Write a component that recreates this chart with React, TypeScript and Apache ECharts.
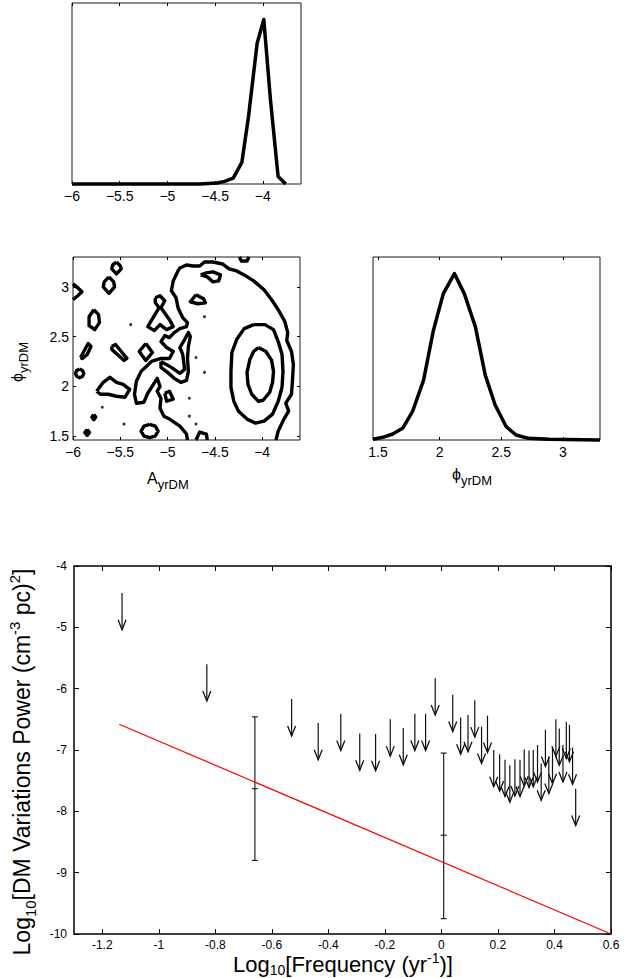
import React, { useEffect, useRef } from "react";
import * as echarts from "echarts";

const FONT = '"Liberation Sans", Arial, Helvetica, sans-serif';

// ---- tick values ----
const A_TICKS = [-6, -5.5, -5, -4.5, -4];
const PHI_TICKS = [1.5, 2, 2.5, 3];
const FREQ_TICKS = [-1.2, -1, -0.8, -0.6, -0.4, -0.2, 0, 0.2, 0.4, 0.6];
const POWER_TICKS = [-10, -9, -8, -7, -6, -5, -4];

// ---- marginal posterior of A_yrDM ----
const A_VALUES = [-6.0, -4.66, -4.48, -4.4, -4.31, -4.22, -4.15, -4.06, -3.99, -3.92, -3.84, -3.76];
const A_PDF = [0, 0, 0.006, 0.016, 0.036, 0.131, 0.41, 0.854, 1.0, 0.511, 0.046, 0];

// ---- marginal posterior of phi_yrDM ----
const PHI_VALUES = [1.46, 1.54, 1.62, 1.7, 1.78, 1.87, 1.95, 2.03, 2.12, 2.2, 2.29, 2.37, 2.45, 2.54, 2.62, 2.72, 2.89, 3.3];
const PHI_PDF = [0.004, 0.016, 0.036, 0.07, 0.17, 0.36, 0.66, 0.88, 1.0, 0.88, 0.68, 0.39, 0.21, 0.08, 0.03, 0.01, 0.004, 0];

// ---- 2D contours (A_yrDM, phi_yrDM) ----
const CONTOUR_INNER = [[-4.04, 2.39], [-3.96, 2.35], [-3.9, 2.26], [-3.88, 2.15], [-3.89, 2.04], [-3.92, 1.94], [-3.99, 1.86], [-4.04, 1.85], [-4.11, 1.92], [-4.15, 2.02], [-4.16, 2.14], [-4.13, 2.27], [-4.09, 2.35]];
const CONTOUR_MID = [[-4.09, 2.62], [-3.97, 2.62], [-3.88, 2.57], [-3.83, 2.45], [-3.79, 2.32], [-3.78, 2.15], [-3.79, 1.99], [-3.83, 1.85], [-3.89, 1.72], [-3.98, 1.65], [-4.07, 1.63], [-4.16, 1.67], [-4.25, 1.75], [-4.3, 1.85], [-4.33, 1.99], [-4.33, 2.15], [-4.32, 2.34], [-4.27, 2.47], [-4.19, 2.58]];
const CONTOUR_OUTER = [[-3.855, 1.46], [-3.83, 1.55], [-3.77, 1.67], [-3.72, 1.75], [-3.75, 1.83], [-3.69, 1.92], [-3.68, 2.05], [-3.67, 2.22], [-3.69, 2.35], [-3.74, 2.46], [-3.73, 2.54], [-3.76, 2.65], [-3.83, 2.77], [-3.9, 2.87], [-3.98, 2.97], [-4.09, 3.06], [-4.19, 3.12], [-4.27, 3.16], [-4.35, 3.18], [-4.42, 3.23], [-4.52, 3.25], [-4.61, 3.25], [-4.66, 3.21], [-4.73, 3.21], [-4.8, 3.22], [-4.87, 3.19], [-4.89, 3.16], [-4.94, 3.06], [-4.96, 2.96], [-4.91, 2.89], [-4.89, 2.79], [-4.84, 2.69], [-4.79, 2.64], [-4.8, 2.6], [-4.87, 2.58], [-4.93, 2.54], [-4.98, 2.49], [-5.03, 2.51], [-5.07, 2.45], [-5.01, 2.39], [-4.94, 2.35], [-4.98, 2.28], [-5.07, 2.28], [-5.17, 2.25], [-5.28, 2.15], [-5.33, 2.05], [-5.35, 1.92], [-5.33, 1.83], [-5.25, 1.84], [-5.21, 1.93], [-5.15, 2.02], [-5.11, 2.08], [-5.08, 2.0], [-5.11, 1.95], [-5.07, 1.88], [-5.08, 1.78], [-5.04, 1.7], [-4.98, 1.67], [-4.87, 1.6], [-4.8, 1.52], [-4.79, 1.46]];
const CONTOUR_BAND = [[-5.07, 2.25], [-4.96, 2.19], [-4.87, 2.13], [-4.82, 2.17], [-4.84, 2.32], [-4.87, 2.39], [-4.82, 2.47], [-4.78, 2.54], [-4.76, 2.5], [-4.78, 2.4], [-4.79, 2.28], [-4.78, 2.15], [-4.8, 2.06], [-4.86, 2.04], [-4.93, 2.08], [-5.0, 2.14], [-5.07, 2.19]];
const CONTOUR_HEART = [[-5.13, 2.89], [-5.08, 2.91], [-5.03, 2.86], [-5.07, 2.79], [-4.98, 2.67], [-4.94, 2.6], [-5.01, 2.57], [-5.08, 2.62], [-5.14, 2.56], [-5.21, 2.6], [-5.14, 2.71], [-5.09, 2.79], [-5.13, 2.84]];
const CONTOUR_TOP_BLOB = [[-4.65, 3.12], [-4.58, 3.1], [-4.52, 3.05], [-4.46, 3.06], [-4.44, 3.12], [-4.52, 3.15], [-4.59, 3.14]];
const CONTOUR_TRI_UP = [[-4.7, 2.92], [-4.62, 2.88], [-4.6, 2.84], [-4.68, 2.83], [-4.76, 2.85]];
const CONTOUR_TRI_MID = [[-5.03, 1.93], [-4.98, 1.95], [-4.94, 1.87], [-5.01, 1.85]];
const CONTOUR_B1 = [[-5.54, 3.25], [-5.5, 3.21], [-5.49, 3.18], [-5.54, 3.13], [-5.59, 3.18], [-5.58, 3.22]];
const CONTOUR_B2 = [[-5.62, 3.1], [-5.57, 3.05], [-5.56, 3.0], [-5.62, 2.935], [-5.68, 3.0], [-5.67, 3.05]];
const CONTOUR_B4 = [[-5.78, 2.77], [-5.73, 2.72], [-5.72, 2.64], [-5.77, 2.57], [-5.83, 2.61], [-5.83, 2.7]];
const CONTOUR_B6 = [[-5.92, 2.29], [-5.88, 2.36], [-5.84, 2.43], [-5.81, 2.4], [-5.85, 2.32], [-5.9, 2.28]];
const CONTOUR_B7 = [[-5.59, 2.4], [-5.55, 2.42], [-5.49, 2.35], [-5.43, 2.28], [-5.46, 2.26], [-5.53, 2.32], [-5.59, 2.37]];
const CONTOUR_B8 = [[-5.23, 2.43], [-5.16, 2.34], [-5.23, 2.26], [-5.3, 2.35]];
const CONTOUR_B9 = [[-5.93, 2.175], [-5.9, 2.16], [-5.885, 2.13], [-5.9, 2.1], [-5.93, 2.085], [-5.96, 2.1], [-5.975, 2.13], [-5.96, 2.16]];
const CONTOUR_B10 = [[-5.75, 1.95], [-5.68, 2.04], [-5.61, 2.09], [-5.54, 2.04], [-5.47, 2.02], [-5.4, 1.97], [-5.45, 1.89], [-5.54, 1.9], [-5.63, 1.92], [-5.71, 1.92]];
const CONTOUR_B11 = [[-5.78, 1.715], [-5.76, 1.69], [-5.78, 1.665], [-5.8, 1.69]];
const CONTOUR_B12 = [[-5.85, 1.565], [-5.825, 1.535], [-5.85, 1.505], [-5.875, 1.535]];
const CONTOUR_B15 = [[-5.19, 1.617], [-5.13, 1.6], [-5.1, 1.55], [-5.13, 1.5], [-5.19, 1.483], [-5.25, 1.5], [-5.28, 1.55], [-5.25, 1.6]];
const CONTOUR_EDGE_WEDGE = [[-6, 3.03], [-5.95, 2.99], [-5.905, 2.95], [-5.95, 2.91], [-6, 2.87]];
const CONTOUR_TOP_EDGE = [[-4.24, 3.3], [-4.22, 3.26], [-4.16, 3.26], [-4.14, 3.3]];
const CONTOUR_BOTTOM_EDGE = [[-4.7, 1.46], [-4.66, 1.54], [-4.59, 1.52], [-4.58, 1.46]];
const DOT_A = [-5.39, -5.46, -4.61, -4.7, -4.77, -4.77, -4.7, -4.61, -5.69];
const DOT_PHI = [2.62, 1.62, 2.7, 2.29, 1.88, 1.7, 1.62, 2.14, 1.79];

const CLOSED_CONTOURS = [CONTOUR_INNER, CONTOUR_MID, CONTOUR_BAND, CONTOUR_HEART, CONTOUR_TOP_BLOB, CONTOUR_TRI_UP, CONTOUR_TRI_MID, CONTOUR_B1, CONTOUR_B2, CONTOUR_B4, CONTOUR_B6, CONTOUR_B7, CONTOUR_B8, CONTOUR_B9, CONTOUR_B10, CONTOUR_B11, CONTOUR_B12, CONTOUR_B15];
const OPEN_CONTOURS = [CONTOUR_OUTER, CONTOUR_EDGE_WEDGE, CONTOUR_TOP_EDGE, CONTOUR_BOTTOM_EDGE];

// ---- DM power spectrum ----
const FREQ_UL = [-1.13, -0.83, -0.53, -0.436, -0.356, -0.289, -0.233, -0.181, -0.135, -0.094, -0.056, -0.022, 0.04, 0.068, 0.094, 0.118, 0.142, 0.163, 0.185, 0.206, 0.225, 0.242, 0.26, 0.278, 0.293, 0.31, 0.325, 0.34, 0.353, 0.368, 0.38, 0.393, 0.405, 0.417, 0.43, 0.442, 0.453, 0.464, 0.475];
const POWER_UL = [-4.44, -5.6, -6.17, -6.56, -6.41, -6.73, -6.74, -6.5, -6.64, -6.41, -6.41, -5.83, -6.1, -6.47, -6.43, -6.19, -6.62, -6.44, -7.0, -7.07, -7.16, -7.25, -7.15, -7.16, -6.99, -7.01, -7.0, -6.92, -7.22, -6.67, -7.11, -6.95, -6.5, -6.65, -6.92, -6.54, -6.59, -6.96, -7.63];
const ARROW_LEN = 0.6;
const FREQ_DET = [-0.66, 0.008];
const POWER_DET = [-7.63, -8.39];
const POWER_DET_LO = [-8.8, -9.75];
const POWER_DET_HI = [-6.46, -7.05];
const MODEL_FREQ = [-1.14, 0.6];
const MODEL_POWER = [-6.58, -10];

const minusFmt = (v: number) => (v < 0 ? "\u2212" + String(-v) : String(v));

function makeXAxis(gridIndex: number, min: number, max: number, ticks: number[], opts: any) {
  const tickLen = opts.tickLen ?? 3;
  const base = {
    type: "value",
    gridIndex,
    min,
    max,
    axisLine: { show: false, onZero: false },
    splitLine: { show: false },
    axisTick: { show: opts.ticks !== false, inside: true, length: tickLen, customValues: ticks, lineStyle: { color: "#000", width: 1 } },
  };
  return [
    {
      ...base,
      position: "bottom",
      axisLabel: {
        show: opts.labels !== false,
        customValues: ticks,
        formatter: opts.fmt,
        margin: opts.margin ?? 5,
        fontSize: opts.fontSize ?? 14,
        fontFamily: FONT,
        color: "#000",
      },
    },
    { ...base, position: "top", axisLabel: { show: false } },
  ];
}

function makeYAxis(gridIndex: number, min: number, max: number, ticks: number[], opts: any) {
  const tickLen = opts.tickLen ?? 3;
  const base = {
    type: "value",
    gridIndex,
    min,
    max,
    show: opts.show !== false,
    axisLine: { show: false, onZero: false },
    splitLine: { show: false },
    axisTick: { show: opts.ticks !== false, inside: true, length: tickLen, customValues: ticks, lineStyle: { color: "#000", width: 1 } },
  };
  return [
    {
      ...base,
      position: "left",
      axisLabel: {
        show: opts.labels !== false,
        customValues: ticks,
        formatter: opts.fmt,
        margin: opts.margin ?? 4,
        fontSize: opts.fontSize ?? 14,
        fontFamily: FONT,
        color: "#000",
      },
    },
    { ...base, position: "right", axisLabel: { show: false } },
  ];
}

function buildOption(): any {
  const gridBase = { show: true, borderColor: "#1a1a1a", borderWidth: 1, backgroundColor: "transparent" };
  const xAxes = [
    ...makeXAxis(0, -6, -3.6, A_TICKS, { fmt: minusFmt }),
    ...makeXAxis(1, -6, -3.6, A_TICKS, { fmt: minusFmt }),
    ...makeXAxis(2, 1.46, 3.3, PHI_TICKS, { fmt: (v: number) => String(v) }),
    ...makeXAxis(3, -1.3, 0.6, FREQ_TICKS, { fmt: (v: number) => String(v), tickLen: 5, fontSize: 12, margin: 5 }),
  ];
  const y0 = makeYAxis(0, 0, 1.1, [], { show: false });
  const y1 = makeYAxis(1, 1.46, 3.3, PHI_TICKS, { fmt: (v: number) => String(v) });
  const y2 = makeYAxis(2, 0, 1.1, [], { show: false });
  const y3 = makeYAxis(3, -10, -4, POWER_TICKS, { fmt: (v: number) => String(v), tickLen: 5, fontSize: 12, margin: 7 });
  const yAxes = [y0[0], y1[0], y1[1], y2[0], y3[0], y3[1]];

  const contourData = [
    ...CLOSED_CONTOURS.map((c) => ({ coords: [...c, c[0]] })),
    ...OPEN_CONTOURS.map((c) => ({ coords: c })),
  ];

  const arrowData = FREQ_UL.map((f, i) => [f, POWER_UL[i]]);
  const detData = FREQ_DET.map((f, i) => [f, POWER_DET[i], POWER_DET_LO[i], POWER_DET_HI[i]]);

  const titleRich = (n: number, s: number, lh: number) => ({
    n: { fontSize: n, fontFamily: FONT, lineHeight: lh, fill: "#000" },
    s: { fontSize: s, fontFamily: FONT, verticalAlign: "bottom", fill: "#000" },
    p: { fontSize: s, fontFamily: FONT, verticalAlign: "top", fill: "#000" },
  });

  return {
    animation: false,
    backgroundColor: "#fff",
    grid: [
      { ...gridBase, left: 72, top: 3, width: 229, height: 181 },
      { ...gridBase, left: 73, top: 257, width: 227, height: 183 },
      { ...gridBase, left: 373, top: 257, width: 227, height: 183 },
      { ...gridBase, left: 74, top: 566, width: 537, height: 368, borderColor: "#000", borderWidth: 1.5 },
    ],
    xAxis: xAxes,
    yAxis: yAxes,
    series: [
      {
        type: "line",
        xAxisIndex: 0,
        yAxisIndex: 0,
        data: A_VALUES.map((a, i) => [a, A_PDF[i]]),
        showSymbol: false,
        symbol: "none",
        clip: false,
        lineStyle: { color: "#000", width: 3.5, join: "round" },
      },
      {
        type: "lines",
        coordinateSystem: "cartesian2d",
        xAxisIndex: 2,
        yAxisIndex: 1,
        polyline: true,
        silent: true,
        data: contourData,
        lineStyle: { color: "#000", width: 3.4, opacity: 1, curveness: 0, join: "round" },
      },
      {
        type: "scatter",
        xAxisIndex: 2,
        yAxisIndex: 1,
        symbol: "circle",
        symbolSize: 3,
        silent: true,
        itemStyle: { color: "#000" },
        data: DOT_A.map((a, i) => [a, DOT_PHI[i]]),
      },
      {
        type: "line",
        xAxisIndex: 4,
        yAxisIndex: 3,
        data: PHI_VALUES.map((p, i) => [p, PHI_PDF[i]]),
        showSymbol: false,
        symbol: "none",
        clip: false,
        lineStyle: { color: "#000", width: 3.5, join: "round" },
      },
      {
        type: "line",
        xAxisIndex: 6,
        yAxisIndex: 4,
        data: MODEL_FREQ.map((f, i) => [f, MODEL_POWER[i]]),
        showSymbol: false,
        symbol: "none",
        lineStyle: { color: "#ff0000", width: 1.2 },
      },
      {
        type: "custom",
        xAxisIndex: 6,
        yAxisIndex: 4,
        data: arrowData,
        encode: { x: 0, y: 1 },
        silent: true,
        renderItem: (_p: any, api: any) => {
          const x = api.value(0);
          const top = api.value(1);
          const p0 = api.coord([x, top]);
          const p1 = api.coord([x, top - ARROW_LEN]);
          const hw = 4;
          const hh = 10;
          return {
            type: "group",
            children: [
              { type: "line", shape: { x1: p0[0], y1: p0[1], x2: p1[0], y2: p1[1] }, style: { stroke: "#111", lineWidth: 1.2 } },
              {
                type: "polyline",
                shape: { points: [[p1[0] - hw, p1[1] - hh], [p1[0], p1[1]], [p1[0] + hw, p1[1] - hh]] },
                style: { stroke: "#111", lineWidth: 1.3, fill: "none" },
              },
            ],
          };
        },
      },
      {
        type: "custom",
        xAxisIndex: 6,
        yAxisIndex: 4,
        data: detData,
        encode: { x: 0, y: 1 },
        silent: true,
        renderItem: (_p: any, api: any) => {
          const x = api.value(0);
          const c = api.coord([x, api.value(1)]);
          const lo = api.coord([x, api.value(2)]);
          const hi = api.coord([x, api.value(3)]);
          const w = 3;
          const st = { stroke: "#111", lineWidth: 1.1 };
          return {
            type: "group",
            children: [
              { type: "line", shape: { x1: lo[0], y1: lo[1], x2: hi[0], y2: hi[1] }, style: st },
              { type: "line", shape: { x1: lo[0] - w, y1: lo[1], x2: lo[0] + w, y2: lo[1] }, style: st },
              { type: "line", shape: { x1: hi[0] - w, y1: hi[1], x2: hi[0] + w, y2: hi[1] }, style: st },
              { type: "line", shape: { x1: c[0] - w, y1: c[1], x2: c[0] + w, y2: c[1] }, style: st },
            ],
          };
        },
      },
    ],
    graphic: [
      {
        type: "text",
        x: 147,
        y: 478,
        style: { text: "{n|A}{s|yrDM}", rich: titleRich(16, 13, 26), align: "left", verticalAlign: "middle", fill: "#000" },
      },
      {
        type: "text",
        x: 452,
        y: 474,
        style: { text: "{n|\u03d5}{s|yrDM}", rich: titleRich(16, 13, 26), align: "left", verticalAlign: "middle", fill: "#000" },
      },
      {
        type: "text",
        x: 17,
        y: 362,
        rotation: Math.PI / 2,
        style: { text: "{n|\u03d5}{s|yrDM}", rich: titleRich(16, 13, 26), align: "center", verticalAlign: "middle", fill: "#000" },
      },
      {
        type: "text",
        x: 22,
        y: 762,
        rotation: Math.PI / 2,
        style: {
          text: "{n|Log}{s|10}{n|[DM Variations Power (cm}{p|-3}{n| pc)}{p|2}{n|]}",
          rich: titleRich(23, 15, 31),
          align: "center",
          verticalAlign: "middle",
          fill: "#000",
        },
      },
      {
        type: "text",
        x: 343,
        y: 964,
        style: {
          text: "{n|Log}{s|10}{n|[Frequency (yr}{p|-1}{n|)]}",
          rich: titleRich(22, 14, 26),
          align: "center",
          verticalAlign: "middle",
          fill: "#000",
        },
      },
    ],
  };
}

export default function App() {
  const ref = useRef<HTMLDivElement>(null);
  useEffect(() => {
    if (!ref.current) return;
    const chart = echarts.init(ref.current, undefined, { renderer: "svg" });
    chart.setOption(buildOption());
    return () => chart.dispose();
  }, []);
  return (
    <div
      ref={ref}
      style={{ position: "fixed", left: 0, top: 0, width: 624, height: 978, background: "#fff" }}
    />
  );
}
